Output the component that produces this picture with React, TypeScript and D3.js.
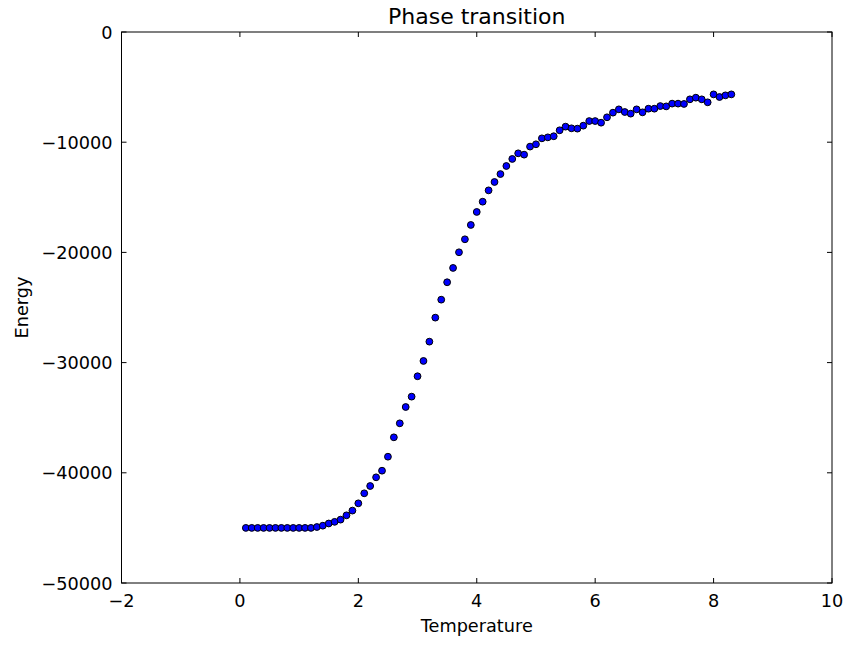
import * as d3 from 'd3';
import React, { useEffect, useRef } from 'react';

const temperature = [
    0.1, 0.2, 0.3, 0.4, 0.5, 0.6, 0.7, 0.8, 0.9, 1.0,
    1.1, 1.2, 1.3, 1.4, 1.5, 1.6, 1.7, 1.8, 1.9, 2.0,
    2.1, 2.2, 2.3, 2.4, 2.5, 2.6, 2.7, 2.8, 2.9, 3.0,
    3.1, 3.2, 3.3, 3.4, 3.5, 3.6, 3.7, 3.8, 3.9, 4.0,
    4.1, 4.2, 4.3, 4.4, 4.5, 4.6, 4.7, 4.8, 4.9, 5.0,
    5.1, 5.2, 5.3, 5.4, 5.5, 5.6, 5.7, 5.8, 5.9, 6.0,
    6.1, 6.2, 6.3, 6.4, 6.5, 6.6, 6.7, 6.8, 6.9, 7.0,
    7.1, 7.2, 7.3, 7.4, 7.5, 7.6, 7.7, 7.8, 7.9, 8.0,
    8.1, 8.2, 8.3
];

const energy = [
    -45000, -45000, -45000, -45000, -45000, -45000, -45000, -45000, -45000, -45000,
    -45000, -45000, -44920, -44800, -44600, -44450, -44250, -43860, -43430, -42770,
    -41860, -41200, -40410, -39810, -38540, -36780, -35510, -34030, -33090, -31240,
    -29850, -28100, -25920, -24290, -22710, -21410, -19990, -18810, -17510, -16330,
    -15400, -14370, -13610, -12890, -12160, -11520, -11010, -11130, -10400, -10190,
    -9650, -9560, -9460, -8920, -8590, -8740, -8770, -8500, -8080, -8080,
    -8230, -7740, -7320, -7020, -7260, -7410, -7020, -7290, -6960, -6960,
    -6720, -6750, -6500, -6500, -6530, -6110, -5960, -6110, -6380, -5660,
    -5900, -5750, -5660
];

const xTicks = [-2, 0, 2, 4, 6, 8, 10];
const yTicks = [-50000, -40000, -30000, -20000, -10000, 0];

const W = 848, H = 645;
const margin = { left: 121.5, right: 16, top: 32, bottom: 62 };
const font = '"DejaVu Sans", sans-serif';

function App() {
    const ref = useRef(null);

    useEffect(() => {
        const svg = d3.select(ref.current);
        svg.selectAll('*').remove();

        const x = d3.scaleLinear().domain([-2, 10]).range([margin.left, W - margin.right]);
        const y = d3.scaleLinear().domain([-50000, 0]).range([H - margin.bottom, margin.top]);
        const [x0, x1] = x.range();
        const [y0, y1] = y.range();
        const tickLen = 5;

        const g = svg.append('g');

        // punkte
        g.selectAll('circle.pt')
            .data(temperature)
            .enter()
            .append('circle')
            .attr('class', 'pt')
            .attr('cx', d => x(d))
            .attr('cy', (d, i) => y(energy[i]))
            .attr('r', 3.4)
            .attr('fill', '#0000ff')
            .attr('stroke', '#000')
            .attr('stroke-width', 1);

        // ticks nach innen, alle vier seiten
        const ticks = g.append('g').attr('stroke', '#000').attr('stroke-width', 1);
        xTicks.forEach(t => {
            ticks.append('line').attr('x1', x(t)).attr('x2', x(t)).attr('y1', y0).attr('y2', y0 - tickLen);
            ticks.append('line').attr('x1', x(t)).attr('x2', x(t)).attr('y1', y1).attr('y2', y1 + tickLen);
        });
        yTicks.forEach(t => {
            ticks.append('line').attr('x1', x0).attr('x2', x0 + tickLen).attr('y1', y(t)).attr('y2', y(t));
            ticks.append('line').attr('x1', x1).attr('x2', x1 - tickLen).attr('y1', y(t)).attr('y2', y(t));
        });

        // rahmen
        g.append('rect')
            .attr('x', x0).attr('y', y1)
            .attr('width', x1 - x0).attr('height', y0 - y1)
            .attr('fill', 'none')
            .attr('stroke', '#000')
            .attr('stroke-width', 1);

        const fmt = (v: number) => String(v).replace('-', '\u2212');

        g.selectAll('text.xt')
            .data(xTicks)
            .enter()
            .append('text')
            .attr('x', d => x(d))
            .attr('y', y0 + 24)
            .attr('text-anchor', 'middle')
            .style('font-family', font)
            .style('font-size', '17.7px')
            .text(d => fmt(d));

        g.selectAll('text.yt')
            .data(yTicks)
            .enter()
            .append('text')
            .attr('x', x0 - 9)
            .attr('y', d => y(d) + 6.5)
            .attr('text-anchor', 'end')
            .style('font-family', font)
            .style('font-size', '17.7px')
            .text(d => fmt(d));

        g.append('text')
            .attr('x', (x0 + x1) / 2)
            .attr('y', 24)
            .attr('text-anchor', 'middle')
            .style('font-family', font)
            .style('font-size', '22px')
            .text('Phase transition');

        g.append('text')
            .attr('x', (x0 + x1) / 2)
            .attr('y', 632)
            .attr('text-anchor', 'middle')
            .style('font-family', font)
            .style('font-size', '17.7px')
            .text('Temperature');

        g.append('text')
            .attr('transform', `translate(28, ${(y0 + y1) / 2}) rotate(-90)`)
            .attr('text-anchor', 'middle')
            .style('font-family', font)
            .style('font-size', '17.7px')
            .text('Energy');
    }, []);

    return (
        <svg ref={ref} width={W} height={H}
            style={{ position: 'absolute', left: 0, top: 0, background: '#fff' }}></svg>
    );
}

export default App;
